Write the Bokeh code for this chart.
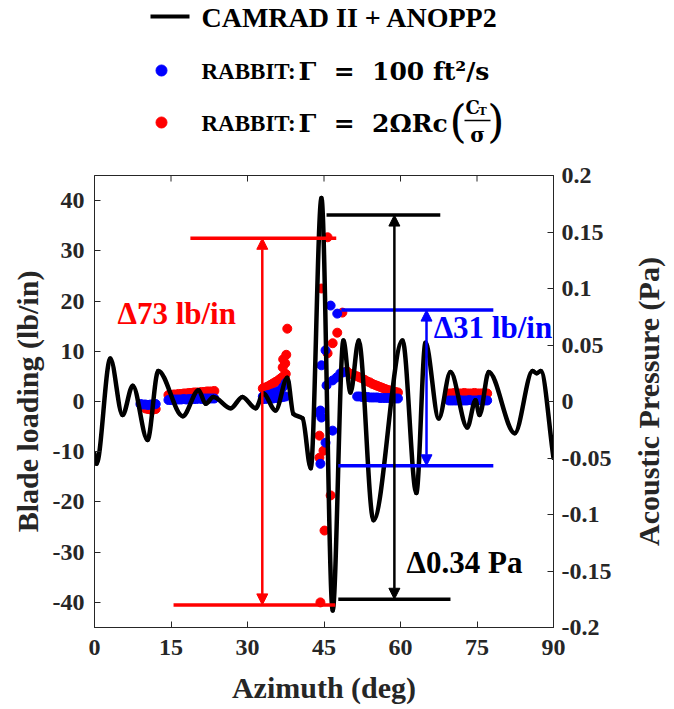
import math

from bokeh.plotting import figure
from bokeh.models import Range1d, LinearAxis, FixedTicker, Arrow, NormalHead, Label
from bokeh.layouts import column
from bokeh.embed import file_html
from bokeh.resources import INLINE

# ---------------- data ----------------
# CAMRAD II + ANOPP2 acoustic pressure (Pa) vs azimuth (deg)
camrad_az = [0.0, 0.4, 3.1, 5.5, 7.5, 10.4, 12.5, 17.3, 20.4, 21.8, 23.3, 26.7, 29.0,
             31.6, 33.1, 35.5, 37.8, 39.0, 40.8, 42.4, 44.5, 46.7, 48.8, 50.2, 51.8,
             54.7, 60.4, 63.1, 64.9, 67.5, 69.8, 73.1, 74.7, 75.5, 77.3, 82.4, 85.9,
             86.7, 87.5, 90.0]
camrad_pa = [-0.046, -0.055, 0.038, -0.012, 0.014, -0.034, 0.027, -0.013, 0.010, -0.002,
             0.004, -0.006, 0.004, -0.006, 0.007, -0.008, 0.021, -0.011, -0.015, -0.059,
             0.180, -0.185, 0.054, 0.008, 0.054, -0.105, 0.054, -0.081, 0.052, -0.015,
             0.026, -0.023, 0.001, -0.012, 0.026, -0.028, 0.027, 0.025, 0.027, -0.050]

# RABBIT blade loading (lb/in), Gamma = 100 ft^2/s
blue_az = [9.0, 9.5, 10.0, 10.5, 11.0, 11.5, 12.0,
           14.5, 15.0, 15.5, 16.0, 16.5, 17.0, 17.5, 18.0, 18.5, 19.0, 19.5, 20.0, 20.5,
           21.0, 21.5, 22.0, 22.5, 23.0, 23.5,
           33.0, 33.5, 34.0, 34.5, 35.0, 35.5, 36.0, 36.5, 37.0, 37.5,
           33.0, 33.5, 34.0, 34.5, 35.0, 35.5, 36.0, 36.5, 37.0, 37.5,
           46.3, 47.6, 45.3, 44.5, 45.5, 46.7, 47.5, 48.2, 48.8, 44.3, 44.5, 46.7, 45.3,
           44.3, 44.2,
           51.5, 52.0, 52.5, 53.0, 53.5, 54.0, 54.5, 55.0, 55.5, 56.0, 56.5, 57.0, 57.5,
           58.0, 58.5, 59.0, 59.5,
           69.5, 70.0, 70.5, 71.0, 71.5, 72.0, 72.5, 73.0, 73.5, 74.0, 74.5, 75.0, 75.5,
           76.0, 76.5, 77.0]
blue_load = [-0.5, -0.6, -0.6, -0.7, -0.6, -0.6, -0.5,
             0.3, 0.3, 0.4, 0.4, 0.4, 0.4, 0.5, 0.4, 0.5, 0.5, 0.5, 0.5, 0.6,
             0.5, 0.6, 0.6, 0.6, 0.6, 0.6,
             1.0, 1.1, 1.3, 1.4, 1.6, 1.8, 2.0, 2.3, 2.9, 3.7,
             0.5, 0.5, 0.6, 0.6, 0.6, 0.7, 0.7, 0.8, 0.9, 1.0,
             19.1, 17.5, 10.2, 7.2, 3.2, 4.2, 4.8, 5.6, 5.8, -1.8, -3.2, -5.8, -8.2,
             -12.4, -2.4,
             1.0, 1.0, 0.9, 0.9, 0.9, 0.8, 0.8, 0.8, 0.8, 0.7, 0.7, 0.7, 0.7,
             0.7, 0.6, 0.6, 0.6,
             0.2, 0.2, 0.2, 0.2, 0.3, 0.2, 0.2, 0.2, 0.3, 0.2, 0.2, 0.2, 0.3,
             0.2, 0.2, 0.2]

# RABBIT blade loading (lb/in), Gamma = 2*Omega*R*c*(CT/sigma)
red_az = [10.0, 10.5, 11.0, 11.5, 12.0,
          14.5, 15.0, 15.5, 16.0, 16.5, 17.0, 17.5, 18.0, 18.5, 19.0, 19.5, 20.0, 20.5,
          21.0, 21.5, 22.0, 22.5, 23.0, 23.5,
          33.0, 33.5, 34.0, 34.5, 35.0, 35.5, 36.0, 36.5, 37.0, 37.5,
          36.9, 37.4, 37.0, 37.6, 37.8,
          44.5, 45.7, 48.6, 47.6, 46.7, 45.7, 44.1, 44.9, 44.1, 46.3, 45.1, 44.3,
          49.5, 50.3, 51.0,
          51.5, 52.0, 52.5, 53.0, 53.5, 54.0, 54.5, 55.0, 55.5, 56.0, 56.5, 57.0, 57.5,
          58.0, 58.5, 59.0, 59.5,
          69.5, 70.0, 70.5, 71.0, 71.5, 72.0, 72.5, 73.0, 73.5, 74.0, 74.5, 75.0, 75.5,
          76.0, 76.5, 77.0]
red_load = [-1.4, -1.5, -1.6, -1.6, -1.5,
            1.3, 1.3, 1.4, 1.4, 1.5, 1.5, 1.6, 1.6, 1.7, 1.7, 1.8, 1.8, 1.8,
            1.9, 1.9, 2.0, 2.0, 2.0, 2.1,
            2.6, 2.8, 3.0, 3.3, 3.6, 3.9, 4.2, 4.6, 5.0, 5.5,
            6.8, 7.6, 8.4, 9.3, 14.5,
            22.5, 32.7, 17.7, 13.7, 11.6, 9.6, -6.8, -9.8, -11.2, -18.7, -25.7, -40.0,
            6.0, 5.5, 5.2,
            5.0, 4.8, 4.6, 4.3, 4.0, 3.8, 3.5, 3.3, 3.1, 2.9, 2.7, 2.5, 2.3,
            2.2, 2.0, 1.9, 1.8,
            1.6, 1.6, 1.7, 1.6, 1.6, 1.6, 1.7, 1.6, 1.6, 1.6, 1.7, 1.6, 1.6,
            1.6, 1.7, 1.6]

# Peak-to-peak spans annotated on the chart
red_span = (32.5, -40.5)      # lb/in  -> delta 73
blue_span = (18.2, -12.8)     # lb/in  -> delta 31
black_span = (0.165, -0.175)  # Pa     -> delta 0.34

# Axis ticks and labels
x_ticks = [0, 15, 30, 45, 60, 75, 90]
load_ticks = [-40, -30, -20, -10, 0, 10, 20, 30, 40]
load_labels = ["-40", "-30", "-20", "-10", "0", "10", "20", "30", "40"]
pa_ticks = [-0.2, -0.15, -0.1, -0.05, 0.0, 0.05, 0.1, 0.15, 0.2]
pa_labels = ["-0.2", "-0.15", "-0.1", "-0.05", "0", "0.05", "0.1", "0.15", "0.2"]

# ---------------- styling ----------------
SERIF = "Liberation Serif"
MATH = "DejaVu Serif"
INK = "#262626"
RED = "#ff0000"
BLUE = "#0000ff"
W, H = 674, 709
LEG_H = 150
FRAME_L, FRAME_R = 94, 553
NB = "\u00a0"

# ---------------- legend panel ----------------
# The column aligns this frame with the chart frame below, so the x range is
# set to the page pixels that frame covers.
leg = figure(width=W, height=LEG_H, x_range=Range1d(FRAME_L, FRAME_R),
             y_range=Range1d(LEG_H, 0), output_backend="svg", toolbar_location=None,
             min_border_left=FRAME_L, min_border_right=W - FRAME_R,
             min_border_top=0, min_border_bottom=0)
leg.xaxis.visible = False
leg.yaxis.visible = False
leg.grid.visible = False
leg.outline_line_color = None

leg.line([150, 189], [16, 16], line_width=4, color="black")
leg.scatter([161], [70], size=11, color=BLUE)
leg.scatter([161], [122], size=11, color=RED)


def leg_label(x, y, text, size, font=SERIF, style="bold", align="left"):
    leg.add_layout(Label(x=x, y=y, text=text, text_font=font, text_font_style=style,
                         text_font_size=size, text_baseline="middle", text_align=align,
                         text_color="black"))


leg_label(201, 17, "CAMRAD II + ANOPP2", "28px")
leg_label(201, 71, "RABBIT:", "23px")
leg_label(298, 71, f"Γ{NB}{NB}={NB}{NB}100{NB}ft²/s", "25px", font=MATH)
leg_label(201, 123, "RABBIT:", "23px")
leg_label(298, 123, f"Γ{NB}{NB}={NB}{NB}2ΩRc", "25px", font=MATH)
leg_label(449, 121, "(", "44px", font=MATH, style="normal")
leg_label(504, 121, ")", "44px", font=MATH, style="normal", align="right")
leg_label(465, 107, "C", "18px", font=MATH)
leg_label(478, 111, "T", "11px", font=MATH)
leg_label(477, 134, "σ", "20px", font=MATH, align="center")
leg.line([464, 490], [120, 120], line_width=1.5, color="black")

# ---------------- main chart ----------------
p = figure(width=W, height=H - LEG_H, x_range=Range1d(0, 90), y_range=Range1d(-45, 45),
           output_backend="svg", toolbar_location=None,
           min_border_left=FRAME_L, min_border_right=W - FRAME_R,
           min_border_top=175 - LEG_H, min_border_bottom=H - 627)
p.extra_y_ranges = {"pa": Range1d(-0.2, 0.2)}
p.grid.visible = False
p.outline_line_color = INK
p.outline_line_width = 1


def style_axis(ax, ticks, labels=None):
    ax.ticker = FixedTicker(ticks=ticks)
    if labels is not None:
        ax.major_label_overrides = dict(zip(ticks, labels))
    ax.major_tick_in = 6
    ax.major_tick_out = 0
    ax.minor_tick_line_color = None
    ax.axis_line_color = INK
    ax.major_tick_line_color = INK
    ax.major_label_text_font = SERIF
    ax.major_label_text_font_style = "bold"
    ax.major_label_text_font_size = "24px"
    ax.major_label_text_color = INK
    ax.axis_label_text_font = SERIF
    ax.axis_label_text_font_style = "bold"
    ax.axis_label_text_font_size = "30px"
    ax.axis_label_text_color = INK


style_axis(p.xaxis[0], x_ticks)
p.xaxis[0].axis_label = "Azimuth (deg)"
p.xaxis[0].major_label_standoff = 12
p.xaxis[0].axis_label_standoff = 13

style_axis(p.yaxis[0], load_ticks, load_labels)
p.yaxis[0].axis_label = "Blade loading (lb/in)"
p.yaxis[0].major_label_standoff = 10
p.yaxis[0].axis_label_standoff = 6

right = LinearAxis(y_range_name="pa")
style_axis(right, pa_ticks, pa_labels)
right.major_label_standoff = 8
p.add_layout(right, "right")

# right-hand title, reading upwards, kept in the right border panel
p.add_layout(Label(x=108.6, y=0, text="Acoustic Pressure (Pa)", angle=math.pi / 2,
                   text_align="center", text_baseline="middle", text_font=SERIF,
                   text_font_style="bold", text_font_size="30px", text_color=INK),
             "right")

# inward tick marks along the top edge of the box
p.segment(x0=x_ticks, y0=[45] * len(x_ticks), x1=x_ticks, y1=[43.8] * len(x_ticks),
          line_color=INK, line_width=1)

# RABBIT scatter
p.scatter(red_az, red_load, size=9, color=RED)
p.scatter(blue_az, blue_load, size=9, color=BLUE)


def smooth_segments(xs, ys):
    """Cubic Bezier pieces through every point (monotone Hermite slopes)."""
    n = len(xs)
    h = [xs[i + 1] - xs[i] for i in range(n - 1)]
    d = [(ys[i + 1] - ys[i]) / h[i] for i in range(n - 1)]
    m = [0.0] * n
    m[0], m[-1] = d[0], d[-1]
    for k in range(1, n - 1):
        if d[k - 1] * d[k] > 0:
            w1 = 2 * h[k] + h[k - 1]
            w2 = h[k] + 2 * h[k - 1]
            m[k] = (w1 + w2) / (w1 / d[k - 1] + w2 / d[k])
    seg = dict(x0=[], y0=[], x1=[], y1=[], cx0=[], cy0=[], cx1=[], cy1=[])
    for i in range(n - 1):
        seg["x0"].append(xs[i])
        seg["y0"].append(ys[i])
        seg["x1"].append(xs[i + 1])
        seg["y1"].append(ys[i + 1])
        seg["cx0"].append(xs[i] + h[i] / 3)
        seg["cy0"].append(ys[i] + m[i] * h[i] / 3)
        seg["cx1"].append(xs[i + 1] - h[i] / 3)
        seg["cy1"].append(ys[i + 1] - m[i + 1] * h[i] / 3)
    return seg


# CAMRAD II + ANOPP2 pressure trace
p.bezier(**smooth_segments(camrad_az, camrad_pa), y_range_name="pa",
         line_width=4.5, line_color="black", line_cap="round")

# Peak-to-peak bars
p.segment(x0=[18.8, 15.5], y0=list(red_span), x1=[47.4, 47.2], y1=list(red_span),
          line_width=3.5, color=RED)
p.segment(x0=[48.4, 47.8], y0=list(blue_span), x1=[78.2, 78.2], y1=list(blue_span),
          line_width=3.5, color=BLUE)
p.segment(x0=[45.5, 47.8], y0=list(black_span), x1=[67.8, 69.8], y1=list(black_span),
          line_width=3.5, color="black", y_range_name="pa")


def span_arrow(x, span, color, range_name="default"):
    p.add_layout(Arrow(
        start=NormalHead(size=11, fill_color=color, line_color=color),
        end=NormalHead(size=11, fill_color=color, line_color=color),
        x_start=x, y_start=span[1], x_end=x, y_end=span[0],
        line_color=color, line_width=2.5, y_range_name=range_name))


span_arrow(32.9, red_span, RED)
span_arrow(65.1, blue_span, BLUE)
span_arrow(58.8, black_span, "black", "pa")

red_delta = red_span[0] - red_span[1]
blue_delta = blue_span[0] - blue_span[1]
black_delta = black_span[0] - black_span[1]

p.add_layout(Label(x=4.5, y=17.5, text=f"Δ{red_delta:.0f} lb/in", text_color=RED,
                   text_font=SERIF, text_font_style="bold", text_font_size="31px",
                   text_baseline="middle"))
p.add_layout(Label(x=66.5, y=14.7, text=f"Δ{blue_delta:.0f} lb/in", text_color=BLUE,
                   text_font=SERIF, text_font_style="bold", text_font_size="31px",
                   text_baseline="middle"))
p.add_layout(Label(x=61.2, y=-0.1425, y_range_name="pa", text=f"Δ{black_delta:.2f} Pa",
                   text_color="black", text_font=SERIF, text_font_style="bold",
                   text_font_size="31px", text_baseline="middle"))

layout = column(leg, p, spacing=0)
open("out.html", "w").write(file_html(layout, INLINE))
